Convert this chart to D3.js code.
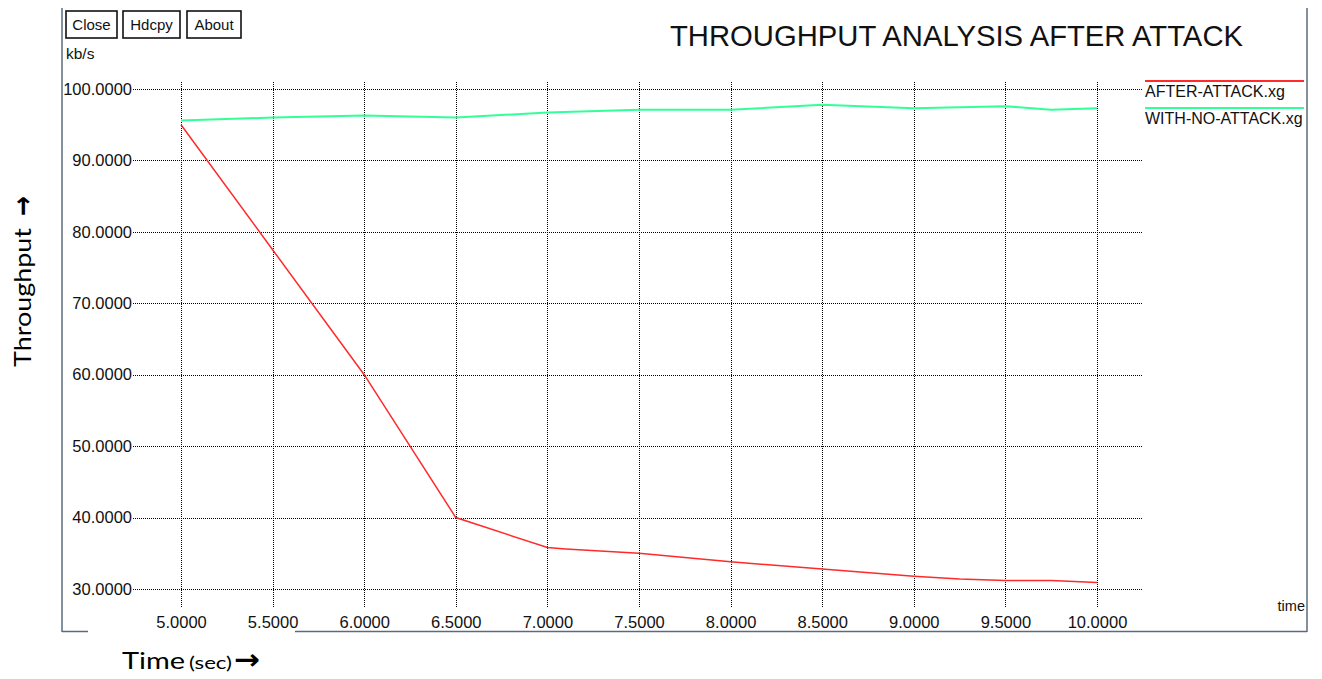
<!DOCTYPE html>
<html>
<head>
<meta charset="utf-8">
<script src="https://cdn.jsdelivr.net/npm/d3@7"></script>
<style>
  html, body { margin: 0; padding: 0; background: #fff; }
  svg { display: block; }
  .xg text { font-family: "Liberation Sans", Arial, sans-serif; fill: #111; }
</style>
</head>
<body>
<svg id="chart" width="1322" height="679"></svg>
<script>
// ── Data ──────────────────────────────────────────────────────
const attackTime   = [5.0, 5.5, 6.0, 6.5, 7.0, 7.1, 7.5, 8.0, 8.5, 9.0, 9.25, 9.5, 9.75, 10.0];
const attackValues = [95.0, 77.5, 60.0, 40.0, 35.8, 35.6, 35.0, 33.8, 32.8, 31.8, 31.4, 31.2, 31.2, 30.9];

const normalTime   = [5.0, 5.5, 6.0, 6.5, 7.0, 7.5, 8.0, 8.5, 9.0, 9.5, 9.75, 10.0];
const normalValues = [95.6, 96.0, 96.3, 96.0, 96.7, 97.1, 97.1, 97.8, 97.3, 97.6, 97.1, 97.3];

const xTicks = [5.0, 5.5, 6.0, 6.5, 7.0, 7.5, 8.0, 8.5, 9.0, 9.5, 10.0];
const yTicks = [30, 40, 50, 60, 70, 80, 90, 100];

const seriesNames  = ['AFTER-ATTACK.xg', 'WITH-NO-ATTACK.xg'];
const seriesColors = ['#ff2a2a', '#33ff99'];
const buttons      = ['Close', 'Hdcpy', 'About'];

// ── Layout ────────────────────────────────────────────────────
const PLOT = { left: 181, right: 1097, top: 89, bottom: 589 };
const GRID = { left: 133, right: 1143, top: 82, bottom: 607 };

const svg = d3.select('#chart');
const g = svg.append('g').attr('class', 'xg');

const x = d3.scaleLinear().domain([5, 10]).range([PLOT.left, PLOT.right]);
const y = d3.scaleLinear().domain([30, 100]).range([PLOT.bottom, PLOT.top]);
const fmt = d3.format('.4f');

// window frame
const frame = svg.append('g').attr('stroke', '#5b6b7b').attr('stroke-width', 1.5).attr('fill', 'none');
frame.append('line').attr('x1', 62).attr('x2', 62).attr('y1', 8).attr('y2', 632);
frame.append('line').attr('x1', 1307).attr('x2', 1307).attr('y1', 8).attr('y2', 632);
frame.append('line').attr('x1', 62).attr('x2', 88).attr('y1', 631.5).attr('y2', 631.5);
frame.append('line').attr('x1', 295).attr('x2', 1307).attr('y1', 631.5).attr('y2', 631.5);

// buttons
const btnX = [66, 123, 187];
const btnW = [51, 57, 54];
buttons.forEach((b, i) => {
    g.append('rect')
        .attr('x', btnX[i]).attr('y', 11)
        .attr('width', btnW[i]).attr('height', 27)
        .attr('fill', '#fff').attr('stroke', '#111').attr('stroke-width', 1.6);
    g.append('text')
        .attr('x', btnX[i] + btnW[i] / 2).attr('y', 30)
        .attr('text-anchor', 'middle')
        .attr('font-size', '15px')
        .text(b);
});

// title + unit labels
g.append('text')
    .attr('x', 670).attr('y', 46)
    .attr('font-size', '30px')
    .attr('textLength', 573)
    .attr('lengthAdjust', 'spacingAndGlyphs')
    .text('THROUGHPUT ANALYSIS AFTER ATTACK');

g.append('text').attr('x', 66).attr('y', 59).attr('font-size', '15.5px').text('kb/s');
g.append('text').attr('x', 1305).attr('y', 611).attr('text-anchor', 'end')
    .attr('font-size', '14.5px').text('time');

// ── Grid / axes ───────────────────────────────────────────────
const yAxis = d3.axisLeft(y)
    .tickValues(yTicks)
    .tickFormat(fmt)
    .tickSize(-(GRID.right - GRID.left))
    .tickPadding(1);

const yG = g.append('g')
    .attr('transform', `translate(${GRID.left},0)`)
    .call(yAxis);

const xAxis = d3.axisBottom(x)
    .tickValues(xTicks)
    .tickFormat(fmt)
    .tickSize(-(GRID.bottom - GRID.top))
    .tickPadding(9);

const xG = g.append('g')
    .attr('transform', `translate(0,${GRID.bottom})`)
    .call(xAxis);

[yG, xG].forEach(a => {
    a.select('.domain').remove();
    a.selectAll('line')
        .attr('stroke', '#000')
        .attr('stroke-width', 1)
        .attr('stroke-dasharray', '1,1')
        .attr('shape-rendering', 'crispEdges');
    a.selectAll('text')
        .attr('font-size', '16.5px')
        .attr('font-family', '"Liberation Sans", Arial, sans-serif')
        .attr('fill', '#111');
});

// ── Lines ─────────────────────────────────────────────────────
const line = d3.line().x(d => x(d[0])).y(d => y(d[1]));

g.append('path')
    .datum(d3.zip(normalTime, normalValues))
    .attr('fill', 'none')
    .attr('stroke', seriesColors[1])
    .attr('stroke-width', 2)
    .attr('d', line);

g.append('path')
    .datum(d3.zip(attackTime, attackValues))
    .attr('fill', 'none')
    .attr('stroke', seriesColors[0])
    .attr('stroke-width', 1.5)
    .attr('d', line);

// ── Legend ────────────────────────────────────────────────────
const legY = [81, 108];
seriesNames.forEach((name, i) => {
    g.append('line')
        .attr('x1', 1145).attr('x2', 1304)
        .attr('y1', legY[i]).attr('y2', legY[i])
        .attr('stroke', seriesColors[i]).attr('stroke-width', 2);
    g.append('text')
        .attr('x', 1145).attr('y', legY[i] + 16)
        .attr('font-size', '16px')
        .text(name);
});

// ── Outer (document) labels ───────────────────────────────────
const outer = svg.append('g')
    .attr('font-family', 'Lato, "Open Sans", sans-serif')
    .attr('fill', '#000');

// vertical axis caption
outer.append('text')
    .attr('transform', 'translate(31,367) rotate(-90)')
    .attr('font-size', '24px')
    .attr('textLength', 139)
    .attr('lengthAdjust', 'spacingAndGlyphs')
    .text('Throughput');
outer.append('text')
    .attr('transform', 'translate(32,216) rotate(-90)')
    .attr('font-family', '"DejaVu Sans", sans-serif')
    .attr('font-weight', 'bold')
    .attr('font-size', '28px')
    .attr('textLength', 20)
    .attr('lengthAdjust', 'spacingAndGlyphs')
    .text('\u2192');

// horizontal axis caption
outer.append('text')
    .attr('x', 122).attr('y', 669)
    .attr('font-size', '24px')
    .attr('textLength', 63)
    .attr('lengthAdjust', 'spacingAndGlyphs')
    .text('Time');
outer.append('text')
    .attr('x', 189).attr('y', 669)
    .attr('font-size', '17px')
    .attr('textLength', 43)
    .attr('lengthAdjust', 'spacingAndGlyphs')
    .text('(sec)');
outer.append('text')
    .attr('x', 234).attr('y', 669)
    .attr('font-family', '"DejaVu Sans", sans-serif')
    .attr('font-weight', 'bold')
    .attr('font-size', '28px')
    .attr('textLength', 26)
    .attr('lengthAdjust', 'spacingAndGlyphs')
    .text('\u2192');
</script>
</body>
</html>
